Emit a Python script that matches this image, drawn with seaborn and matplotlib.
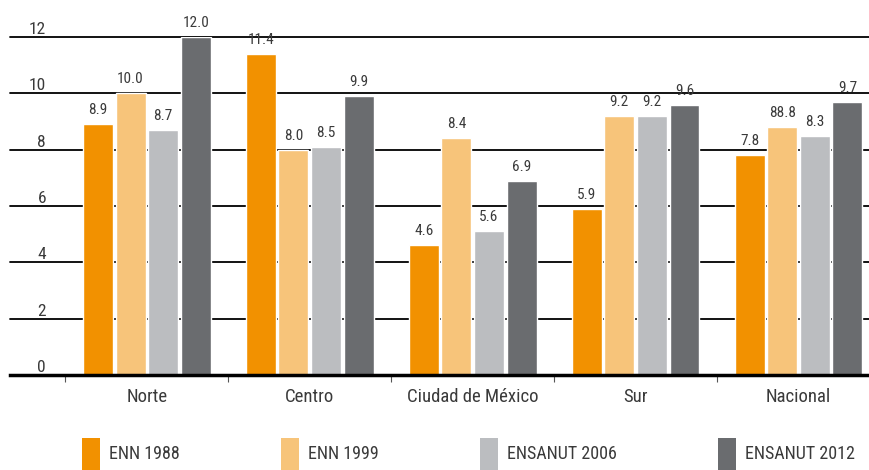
import pandas as pd
import seaborn as sns
import matplotlib.pyplot as plt
from matplotlib import font_manager
from matplotlib.patches import Patch

# values
regiones = ["Norte", "Centro", "Ciudad de México", "Sur", "Nacional"]
encuestas = ["ENN 1988", "ENN 1999", "ENSANUT 2006", "ENSANUT 2012"]
enn_1988 = [8.9, 11.4, 4.6, 5.9, 7.8]
enn_1999 = [10.0, 8.0, 8.4, 9.2, 8.8]
ensanut_2006 = [8.7, 8.1, 5.1, 9.2, 8.5]
ensanut_2012 = [12.0, 9.9, 6.9, 9.6, 9.7]
# labels printed above the bars (as in the original figure)
etiquetas = [
    ["8.9", "11.4", "4.6", "5.9", "7.8"],
    ["10.0", "8.0", "8.4", "9.2", "88.8"],
    ["8.7", "8.5", "5.6", "9.2", "8.3"],
    ["12.0", "9.9", "6.9", "9.6", "9.7"],
]
colores = ["#F29100", "#F7C47A", "#BBBDC0", "#6A6C6F"]

series = [enn_1988, enn_1999, ensanut_2006, ensanut_2012]
df = pd.DataFrame({
    "region": regiones * 4,
    "encuesta": [e for e in encuestas for _ in regiones],
    "valor": [v for s in series for v in s],
})

sns.set_theme(style="white")

# pick a narrow font if one is around
fuentes = {(f.name, f.stretch) for f in font_manager.fontManager.ttflist}
nombres = {n for n, _ in fuentes}
familia, ancho = "DejaVu Sans", "normal"
for cand in ["Roboto Condensed", "Liberation Sans Narrow", "Open Sans Condensed"]:
    if cand in nombres:
        familia = cand
        break
else:
    if ("DejaVu Sans", "condensed") in fuentes:
        ancho = "condensed"
plt.rcParams["font.family"] = [familia, "DejaVu Sans"]
plt.rcParams["font.stretch"] = ancho
texto = "#3a3a3a"

fig = plt.figure(figsize=(8.69, 4.70), dpi=100)
ax = fig.add_axes([10 / 869, 95 / 470, 870 / 869, 338 / 470])

sns.barplot(data=df, x="region", y="valor", hue="encuesta", order=regiones,
            hue_order=encuestas, palette=colores, width=0.8, gap=0.08,
            saturation=1, legend=False, ax=ax)

for cont, labs in zip(ax.containers, etiquetas):
    ax.bar_label(cont, labels=labs, padding=5, fontsize=11, color=texto)

ax.set_ylim(0, 12)
ax.set_xlim(-0.84, 4.5)
ax.set_yticks(range(0, 13, 2))
ax.yaxis.grid(True, color="black", linewidth=1.3)
ax.set_axisbelow(True)
for g in ax.get_ygridlines():
    g.set_clip_on(False)
ax.tick_params(axis="y", length=0, pad=-26, labelsize=12.5, labelcolor=texto)
for lab in ax.get_yticklabels():
    lab.set_verticalalignment("bottom")

ax.set_xticks([i - 0.5 for i in range(5)], minor=True)
ax.tick_params(axis="x", which="major", length=0, pad=9, labelsize=13.5,
               labelcolor=texto)
ax.tick_params(axis="x", which="minor", length=5, width=0.8, color="#555555",
               bottom=True, direction="out")

sns.despine(ax=ax, left=True, top=True, right=True)
ax.spines["bottom"].set_linewidth(2.5)
ax.spines["bottom"].set_color("black")
ax.set_xlabel("")
ax.set_ylabel("")

handles = [Patch(facecolor=c, edgecolor="none") for c in colores]
fig.legend(handles, encuestas, loc="lower left", bbox_to_anchor=(66 / 869, -0.035),
           ncol=4, frameon=False, handlelength=1.0, handleheight=2.4,
           handletextpad=0.5, columnspacing=5.6, fontsize=13, labelcolor=texto)

fig.savefig("out.png", dpi=100)
